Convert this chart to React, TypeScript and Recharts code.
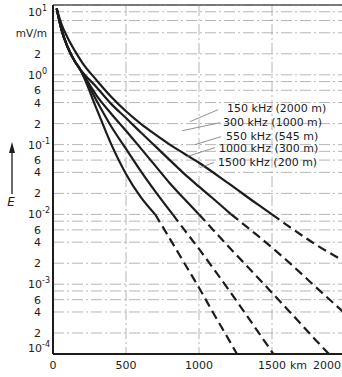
import {
  LineChart,
  Line,
  XAxis,
  YAxis,
  CartesianGrid,
  ReferenceLine,
  ReferenceDot,
  Label,
} from "recharts";

// field strength E (mV/m) against distance (km), one pair of arrays per frequency
const km150 = [25, 60, 100, 150, 200, 300, 400, 500, 600, 700, 800, 900, 1000, 1200, 1400, 1500, 1600, 1800, 2000];
const e150 = [8.9, 5.2, 3.4, 2.2, 1.5, 0.83, 0.48, 0.3, 0.2, 0.14, 0.1, 0.074, 0.055, 0.028, 0.014, 0.01, 0.0071, 0.0037, 0.0021];

const km300 = [25, 60, 100, 150, 180, 300, 400, 500, 600, 700, 800, 900, 1000, 1100, 1220, 1400, 1600, 1800, 2000];
const e300 = [8.9, 4.3, 2.5, 1.55, 1.25, 0.66, 0.38, 0.24, 0.15, 0.095, 0.06, 0.038, 0.025, 0.0166, 0.01, 0.005, 0.0022, 0.00091, 0.00038];

const km550 = [25, 60, 100, 150, 180, 300, 400, 500, 600, 700, 800, 900, 1000, 1200, 1400, 1600, 1800, 1890];
const e550 = [8.9, 4.3, 2.5, 1.55, 1.25, 0.5, 0.275, 0.158, 0.089, 0.05, 0.028, 0.0166, 0.01, 0.0035, 0.00126, 0.00045, 0.000158, 0.0001];

const km1000 = [25, 60, 100, 150, 180, 300, 400, 500, 600, 700, 820, 900, 1000, 1100, 1200, 1300, 1400, 1510];
const e1000 = [8.9, 4.3, 2.5, 1.55, 1.25, 0.42, 0.18, 0.087, 0.042, 0.0214, 0.01, 0.006, 0.0032, 0.00166, 0.00085, 0.00043, 0.000214, 0.0001];

const km1500 = [25, 60, 100, 150, 180, 300, 400, 500, 600, 700, 800, 900, 1000, 1100, 1200, 1260];
const e1500 = [8.9, 4.3, 2.5, 1.55, 1.25, 0.32, 0.1, 0.038, 0.0178, 0.01, 0.0045, 0.002, 0.00089, 0.00038, 0.000166, 0.0001];

const curveNames = ["150 kHz (2000 m)", "300 kHz (1000 m)", "550 kHz (545 m)", "1000 kHz (300 m)", "1500 kHz (200 m)"];

// where the name labels and their short leader strokes sit
const labelKm = [1192, 1164, 1185, 1137, 1130];
const labelE = [0.338, 0.213, 0.134, 0.0877, 0.0553];
const leaderFromKm = [938, 884, 973, 918, 1007];
const leaderFromE = [0.213, 0.158, 0.1, 0.0674, 0.0469];
const leaderToKm = [1130, 1144, 1151, 1110, 1103];
const leaderToE = [0.316, 0.206, 0.13, 0.0906, 0.0553];

const xTicks = [0, 500, 1000, 1500, 2000];
const yTicks = [
  0.0001, 0.0002, 0.0004, 0.0006, 0.0008,
  0.001, 0.002, 0.004, 0.006, 0.008,
  0.01, 0.02, 0.04, 0.06, 0.08,
  0.1, 0.2, 0.4, 0.6, 0.8,
  1, 2, 4, 6, 8,
  10,
];
const yTickLabels = [
  "10^-4", "2", "4", "6", "",
  "10^-3", "2", "4", "6", "",
  "10^-2", "2", "4", "6", "",
  "10^-1", "2", "4", "6", "",
  "10^0", "2", "mV/m", "", "",
  "10^1",
];

const LIMIT = 0.01; // below this the curves are drawn dashed
const FONT = "DejaVu Sans";
const INK = "#1c1c1c";

const curves = [
  { km: km150, e: e150 },
  { km: km300, e: e300 },
  { km: km550, e: e550 },
  { km: km1000, e: e1000 },
  { km: km1500, e: e1500 },
];

function points(km: number[], e: number[]) {
  return km.map((d, i) => ({ km: d, e: e[i] }));
}

function YTick(props: any) {
  const { y, payload } = props;
  const i = yTicks.findIndex((t) => Math.abs(t - payload.value) < t * 1e-6);
  const lab = i >= 0 ? yTickLabels[i] : "";
  if (!lab) return <g />;
  if (lab.startsWith("10^")) {
    const exp = lab.slice(3);
    const shift = payload.value === 10 ? 7 : payload.value === 0.0001 ? -6 : 0;
    return (
      <g fontFamily={FONT} fill={INK}>
        <text x={42} y={y + shift + 4} fontSize={11} textAnchor="end">
          10
        </text>
        <text x={42} y={y + shift - 1} fontSize={8} textAnchor="start">
          {exp}
        </text>
      </g>
    );
  }
  if (lab === "mV/m") {
    return (
      <text x={47} y={y + 4} fontSize={10.5} textAnchor="end" fontFamily={FONT} fill={INK}>
        mV/m
      </text>
    );
  }
  return (
    <text x={41} y={y + 4} fontSize={11} textAnchor="end" fontFamily={FONT} fill={INK}>
      {lab}
    </text>
  );
}

function XTick(props: any) {
  const { x, payload } = props;
  if (payload.value === 2000) {
    return (
      <g fontFamily={FONT} fill={INK} fontSize={11}>
        <text x={307} y={369} textAnchor="end">km</text>
        <text x={341} y={369} textAnchor="end">2000</text>
      </g>
    );
  }
  return (
    <text x={x} y={369} textAnchor="middle" fontFamily={FONT} fill={INK} fontSize={11}>
      {payload.value}
    </text>
  );
}

function AxisName() {
  return (
    <g>
      <line x1={12} y1={194} x2={12} y2={150} stroke={INK} strokeWidth={1.3} />
      <polygon points="12,142 9,153 15,153" fill={INK} />
      <text x={11} y={206} textAnchor="middle" fontFamily={FONT} fontStyle="italic" fontSize={12} fill={INK}>
        E
      </text>
    </g>
  );
}

export default function App() {
  return (
    <div
      style={{
        position: "absolute",
        left: 0,
        top: 0,
        width: 342,
        height: 377,
        overflow: "hidden",
        background: "#fff",
      }}
    >
      <LineChart width={350} height={377} margin={{ top: 5, right: 5, bottom: 3, left: 0 }}>
        <CartesianGrid stroke="#a3a3a3" strokeWidth={0.8} strokeDasharray="11 3 2 3" />
        <XAxis
          type="number"
          dataKey="km"
          domain={[0, 2000]}
          ticks={xTicks}
          height={20}
          tickLine={false}
          axisLine={{ stroke: INK, strokeWidth: 2 }}
          tick={<XTick />}
          interval={0}
        />
        <YAxis
          type="number"
          dataKey="e"
          scale="log"
          domain={[0.0001, 10]}
          ticks={yTicks}
          width={53}
          tickLine={false}
          axisLine={{ stroke: INK, strokeWidth: 2 }}
          tick={<YTick />}
          interval={0}
        >
          <Label content={<AxisName />} />
        </YAxis>
        <ReferenceLine y={10} stroke="#555" strokeWidth={1.5} />

        {curves.map((c, i) => {
          const pts = points(c.km, c.e);
          return (
            <Line
              key={`s${i}`}
              data={pts.filter((p) => p.e >= LIMIT)}
              dataKey="e"
              type="monotone"
              stroke={INK}
              strokeWidth={2.2}
              dot={false}
              isAnimationActive={false}
            />
          );
        })}
        {curves.map((c, i) => {
          const pts = points(c.km, c.e);
          return (
            <Line
              key={`d${i}`}
              data={pts.filter((p) => p.e <= LIMIT)}
              dataKey="e"
              type="monotone"
              stroke={INK}
              strokeWidth={2.2}
              strokeDasharray="9 5"
              dot={false}
              isAnimationActive={false}
            />
          );
        })}

        {curveNames.map((n, i) => (
          <ReferenceLine
            key={`l${i}`}
            segment={[
              { x: leaderFromKm[i], y: leaderFromE[i] },
              { x: leaderToKm[i], y: leaderToE[i] },
            ]}
            stroke="#777"
            strokeWidth={0.8}
          />
        ))}
        {curveNames.map((n, i) => (
          <ReferenceDot
            key={`n${i}`}
            x={labelKm[i]}
            y={labelE[i]}
            r={0}
            stroke="none"
            fill="none"
            label={{ value: n, position: "right", offset: 0, fontSize: 11, fill: INK, fontFamily: FONT }}
          />
        ))}
      </LineChart>
    </div>
  );
}
